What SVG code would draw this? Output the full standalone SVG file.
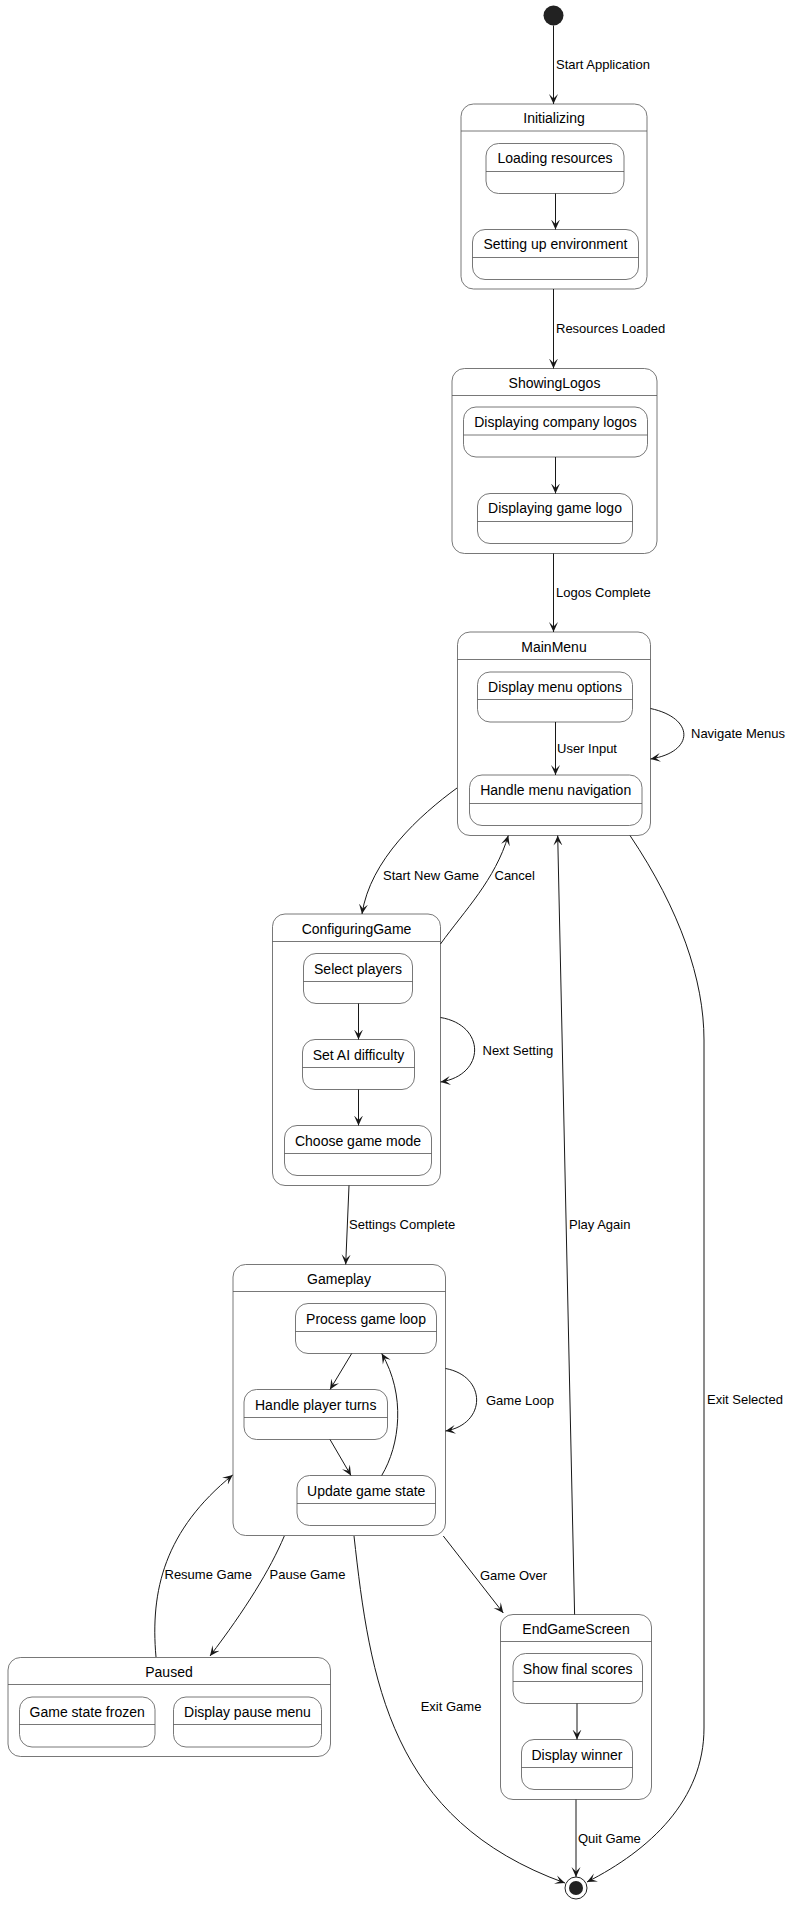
<svg xmlns="http://www.w3.org/2000/svg" width="795" height="1905" viewBox="0 0 795 1905">
<defs>
<marker id="ah" viewBox="0 0 10 10" refX="10" refY="5" markerWidth="10" markerHeight="10" orient="auto" markerUnits="userSpaceOnUse"><path d="M10,5 L0,0.5 L4.5,5 L0,9.5 Z" fill="#181818"/></marker>
<style>
.box{fill:#ffffff;stroke:#555555;stroke-width:0.8}
.sep{stroke:#555555;stroke-width:0.8}
.t{font-family:"Liberation Sans",Arial,sans-serif;font-size:14px;fill:#000;text-anchor:middle}
.l{font-family:"Liberation Sans",Arial,sans-serif;font-size:13px;fill:#000}
.c{fill:none;stroke:#181818;stroke-width:1;marker-end:url(#ah)}
.cn{fill:none;stroke:#181818;stroke-width:1}
</style>
</defs>
<rect width="795" height="1905" fill="#ffffff"/>

<g id="start"><circle cx="553.5" cy="15.5" r="10" fill="#222222"/></g>

<g id="Initializing">
<rect class="box" x="461" y="104" width="186" height="185" rx="12.5"/>
<line class="sep" x1="461" y1="131" x2="647" y2="131"/>
<text class="t" x="554" y="123">Initializing</text>
</g>
<g id="LoadingResources">
<rect class="box" x="486" y="143.5" width="138" height="50" rx="12.5"/>
<line class="sep" x1="486" y1="171.5" x2="624" y2="171.5"/>
<text class="t" x="555" y="163">Loading resources</text>
</g>
<g id="SettingUpEnvironment">
<rect class="box" x="472.5" y="229.5" width="166" height="50" rx="12.5"/>
<line class="sep" x1="472.5" y1="257.5" x2="638.5" y2="257.5"/>
<text class="t" x="555.5" y="249">Setting up environment</text>
</g>

<g id="ShowingLogos">
<rect class="box" x="452" y="368.5" width="205" height="185" rx="12.5"/>
<line class="sep" x1="452" y1="395.5" x2="657" y2="395.5"/>
<text class="t" x="554.5" y="388">ShowingLogos</text>
</g>
<g id="DisplayingCompanyLogos">
<rect class="box" x="463.5" y="407" width="184" height="50" rx="12.5"/>
<line class="sep" x1="463.5" y1="435" x2="647.5" y2="435"/>
<text class="t" x="555.5" y="427">Displaying company logos</text>
</g>
<g id="DisplayingGameLogo">
<rect class="box" x="477.5" y="493.5" width="155" height="50" rx="12.5"/>
<line class="sep" x1="477.5" y1="521.5" x2="632.5" y2="521.5"/>
<text class="t" x="555" y="513">Displaying game logo</text>
</g>

<g id="MainMenu">
<rect class="box" x="457.5" y="632" width="193" height="203.5" rx="12.5"/>
<line class="sep" x1="457.5" y1="659.5" x2="650.5" y2="659.5"/>
<text class="t" x="554" y="652">MainMenu</text>
</g>
<g id="DisplayMenuOptions">
<rect class="box" x="477.5" y="672" width="155" height="50" rx="12.5"/>
<line class="sep" x1="477.5" y1="699.5" x2="632.5" y2="699.5"/>
<text class="t" x="555" y="692">Display menu options</text>
</g>
<g id="HandleMenuNavigation">
<rect class="box" x="469.5" y="775" width="172.5" height="50.5" rx="12.5"/>
<line class="sep" x1="469.5" y1="803.5" x2="642" y2="803.5"/>
<text class="t" x="555.7" y="795">Handle menu navigation</text>
</g>

<g id="ConfiguringGame">
<rect class="box" x="272.5" y="914" width="168" height="271.5" rx="12.5"/>
<line class="sep" x1="272.5" y1="941.5" x2="440.5" y2="941.5"/>
<text class="t" x="356.5" y="934">ConfiguringGame</text>
</g>
<g id="SelectPlayers">
<rect class="box" x="303.5" y="953.5" width="109" height="50" rx="12.5"/>
<line class="sep" x1="303.5" y1="981.5" x2="412.5" y2="981.5"/>
<text class="t" x="358" y="973.5">Select players</text>
</g>
<g id="SetAIDifficulty">
<rect class="box" x="302.5" y="1039.5" width="112" height="50" rx="12.5"/>
<line class="sep" x1="302.5" y1="1067.5" x2="414.5" y2="1067.5"/>
<text class="t" x="358.5" y="1059.5">Set AI difficulty</text>
</g>
<g id="ChooseGameMode">
<rect class="box" x="284.5" y="1125.5" width="147" height="50" rx="12.5"/>
<line class="sep" x1="284.5" y1="1153.5" x2="431.5" y2="1153.5"/>
<text class="t" x="358" y="1145.5">Choose game mode</text>
</g>

<g id="Gameplay">
<rect class="box" x="233" y="1264.5" width="212.5" height="271" rx="12.5"/>
<line class="sep" x1="233" y1="1291.5" x2="445.5" y2="1291.5"/>
<text class="t" x="339" y="1284">Gameplay</text>
</g>
<g id="ProcessGameLoop">
<rect class="box" x="295.5" y="1303.5" width="141" height="50" rx="12.5"/>
<line class="sep" x1="295.5" y1="1331.5" x2="436.5" y2="1331.5"/>
<text class="t" x="366" y="1323.5">Process game loop</text>
</g>
<g id="HandlePlayerTurns">
<rect class="box" x="244" y="1389.5" width="143.5" height="50" rx="12.5"/>
<line class="sep" x1="244" y1="1417.5" x2="387.5" y2="1417.5"/>
<text class="t" x="315.7" y="1409.5">Handle player turns</text>
</g>
<g id="UpdateGameState">
<rect class="box" x="297" y="1475.5" width="138.5" height="50" rx="12.5"/>
<line class="sep" x1="297" y1="1503.5" x2="435.5" y2="1503.5"/>
<text class="t" x="366.2" y="1495.5">Update game state</text>
</g>

<g id="Paused">
<rect class="box" x="8" y="1657.5" width="322.5" height="99" rx="12.5"/>
<line class="sep" x1="8" y1="1684.5" x2="330.5" y2="1684.5"/>
<text class="t" x="169" y="1677">Paused</text>
</g>
<g id="GameStateFrozen">
<rect class="box" x="19.5" y="1697" width="135.5" height="50" rx="12.5"/>
<line class="sep" x1="19.5" y1="1724.5" x2="155" y2="1724.5"/>
<text class="t" x="87.2" y="1717">Game state frozen</text>
</g>
<g id="DisplayPauseMenu">
<rect class="box" x="173.5" y="1697" width="148" height="50" rx="12.5"/>
<line class="sep" x1="173.5" y1="1724.5" x2="321.5" y2="1724.5"/>
<text class="t" x="247.5" y="1717">Display pause menu</text>
</g>

<g id="EndGameScreen">
<rect class="box" x="500.5" y="1614.5" width="151" height="185" rx="12.5"/>
<line class="sep" x1="500.5" y1="1641.5" x2="651.5" y2="1641.5"/>
<text class="t" x="576" y="1634">EndGameScreen</text>
</g>
<g id="ShowFinalScores">
<rect class="box" x="513" y="1653.5" width="129.5" height="50" rx="12.5"/>
<line class="sep" x1="513" y1="1681.5" x2="642.5" y2="1681.5"/>
<text class="t" x="577.7" y="1673.5">Show final scores</text>
</g>
<g id="DisplayWinner">
<rect class="box" x="521.5" y="1739.5" width="111" height="50" rx="12.5"/>
<line class="sep" x1="521.5" y1="1767.5" x2="632.5" y2="1767.5"/>
<text class="t" x="577" y="1759.5">Display winner</text>
</g>

<g id="end">
<circle cx="576" cy="1888" r="11" fill="#ffffff" stroke="#222222" stroke-width="1"/>
<circle cx="576" cy="1888" r="7" fill="#222222"/>
</g>

<g id="connectors">
<path class="c" d="M553.5,25.5 L553.5,104"/>
<text class="l" x="556" y="69">Start Application</text>
<path class="c" d="M555.5,193.5 L555.5,229.5"/>
<path class="c" d="M553.5,289 L553.5,368.5"/>
<text class="l" x="556" y="333">Resources Loaded</text>
<path class="c" d="M555.5,457 L555.5,493.5"/>
<path class="c" d="M553.5,553.5 L553.5,632"/>
<text class="l" x="556" y="597">Logos Complete</text>
<path class="c" d="M555.5,722 L555.5,775"/>
<text class="l" x="557" y="753">User Input</text>
<path class="c" d="M650.5,708.5 C695,718 695,752 650.5,759"/>
<text class="l" x="691" y="738">Navigate Menus</text>
<path class="c" d="M457,788 C420,815 370,860 362,914"/>
<text class="l" x="383" y="880">Start New Game</text>
<path class="c" d="M440.5,944 C465,910 495,880 508.3,835.5"/>
<text class="l" x="494.5" y="880">Cancel</text>
<path class="c" d="M358.5,1003.5 L358.5,1039.5"/>
<path class="c" d="M358.5,1089.5 L358.5,1125.5"/>
<path class="c" d="M440.5,1017.5 C486,1025 486,1075 440.5,1082"/>
<text class="l" x="482.5" y="1055">Next Setting</text>
<path class="c" d="M349,1185.5 L345.7,1264.5"/>
<text class="l" x="349" y="1229">Settings Complete</text>
<path class="c" d="M574.6,1614.5 L557.7,835.5"/>
<text class="l" x="569" y="1229">Play Again</text>
<path class="c" d="M630,835.5 C680,910 704,980 704,1040 L704,1728 C704,1800 650,1850 587,1882"/>
<text class="l" x="707" y="1404">Exit Selected</text>
<path class="c" d="M351.7,1353.5 L330,1389.5"/>
<path class="c" d="M330,1439.5 L351,1475.5"/>
<path class="c" d="M381.7,1475.5 C400,1445 406,1395 381.7,1353.5"/>
<path class="c" d="M445.5,1368.5 C487,1376 487,1424 445.5,1431"/>
<text class="l" x="486" y="1405">Game Loop</text>
<path class="c" d="M156,1657 C150,1590 165,1530 232.7,1475"/>
<text class="l" x="164.5" y="1579">Resume Game</text>
<path class="c" d="M284.3,1536 C270,1570 245,1610 210,1656"/>
<text class="l" x="269.5" y="1579">Pause Game</text>
<path class="c" d="M443.3,1536 L503.3,1613"/>
<text class="l" x="480" y="1580">Game Over</text>
<path class="c" d="M354,1536 C370,1680 390,1820 565,1883"/>
<text class="l" x="420.7" y="1711">Exit Game</text>
<path class="c" d="M577,1703.5 L577,1739.5"/>
<path class="c" d="M576,1799.5 L576,1877"/>
<text class="l" x="578" y="1843">Quit Game</text>
</g>
</svg>
